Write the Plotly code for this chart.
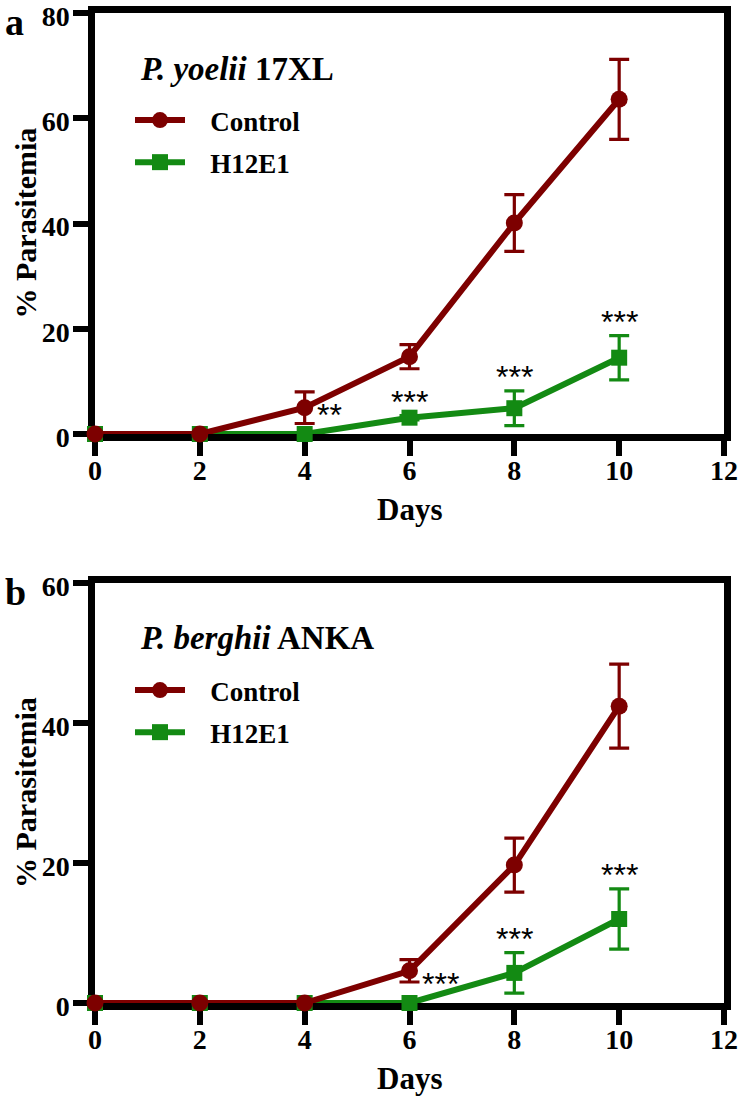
import plotly.graph_objects as go

days = [0, 2, 4, 6, 8, 10]

# Panel a: P. yoelii 17XL
a_title = "<i>P. yoelii</i> 17XL"
a_control = [0, 0, 5.0, 14.7, 40.1, 63.6]
a_control_err = [0, 0, 3.0, 2.3, 5.4, 7.6]
a_h12e1 = [0, 0, 0, 3.1, 4.9, 14.5]
a_h12e1_err = [0, 0, 0, 0.4, 3.3, 4.2]
a_sig = ["", "", "**", "***", "***", "***"]

# Panel b: P. berghii ANKA
b_title = "<i>P. berghii</i> ANKA"
b_control = [0, 0, 0, 4.6, 19.7, 42.4]
b_control_err = [0, 0, 0, 1.6, 3.85, 6.0]
b_h12e1 = [0, 0, 0, 0, 4.3, 12.0]
b_h12e1_err = [0, 0, 0, 0, 2.9, 4.3]
b_sig = ["", "", "", "***", "***", "***"]

x_ticks = [0, 2, 4, 6, 8, 10, 12]
a_y_ticks = [0, 20, 40, 60, 80]
b_y_ticks = [0, 20, 40, 60]

RED = "#7d0000"
GREEN = "#138a13"
SERIF = "Liberation Serif, Times New Roman, serif"
SANS = "Liberation Sans, Arial, sans-serif"
W, H = 743, 1102
GAP = "\u2002\u00a0"

fig = go.Figure()

panels = [
    dict(xa="x", ya="y", leg="legend", title=a_title, ctrl=a_control, ctrl_e=a_control_err,
         h=a_h12e1, h_e=a_h12e1_err, sig=a_sig, letter="a", ymax=80, yt=a_y_ticks,
         top=13, bot=434),
    dict(xa="x2", ya="y2", leg="legend2", title=b_title, ctrl=b_control, ctrl_e=b_control_err,
         h=b_h12e1, h_e=b_h12e1_err, sig=b_sig, letter="b", ymax=60, yt=b_y_ticks,
         top=583, bot=1003),
]

X0, X1 = 95, 724

for p in panels:
    fig.add_trace(go.Scatter(
        x=days, y=p["h"], name="<b>" + GAP + "H12E1</b>", mode="lines+markers",
        xaxis=p["xa"], yaxis=p["ya"], legend=p["leg"], legendrank=2, legendgroup=p["leg"] + "h",
        line=dict(color=GREEN, width=6),
        marker=dict(symbol="square", size=16, color=GREEN),
        error_y=dict(type="data", array=p["h_e"], color=GREEN, thickness=3.2, width=10),
        cliponaxis=False,
    ))
    fig.add_trace(go.Scatter(
        x=days, y=p["ctrl"], name="<b>" + GAP + "Control</b>", mode="lines+markers",
        xaxis=p["xa"], yaxis=p["ya"], legend=p["leg"], legendrank=1, legendgroup=p["leg"] + "c",
        line=dict(color=RED, width=6),
        marker=dict(symbol="circle", size=17, color=RED),
        error_y=dict(type="data", array=p["ctrl_e"], color=RED, thickness=3.2, width=10),
        cliponaxis=False,
    ))
    # significance stars
    for d, v, e, s in zip(days, p["h"], p["h_e"], p["sig"]):
        if not s:
            continue
        if v == 0:
            fig.add_annotation(x=d, y=v, xref=p["xa"], yref=p["ya"], text=s, showarrow=False,
                               xanchor="left", yanchor="middle", xshift=10, yshift=19,
                               font=dict(family=SANS, size=32, color="black"))
        else:
            fig.add_annotation(x=d, y=v + e, xref=p["xa"], yref=p["ya"], text=s, showarrow=False,
                               xanchor="center", yanchor="middle", yshift=14,
                               font=dict(family=SANS, size=32, color="black"))
    # panel title
    fig.add_annotation(x=0.068, y=0.868,
                       xref=p["xa"] + " domain", yref=p["ya"] + " domain",
                       text="<b>" + p["title"] + "</b>", showarrow=False,
                       xanchor="left", yanchor="middle",
                       font=dict(family=SERIF, size=33, color="black"))
    # panel letter
    fig.add_annotation(x=3 / W, y=1 - (p["top"] + 9) / H, xref="paper", yref="paper",
                       text="<b>" + p["letter"] + "</b>", showarrow=False,
                       xanchor="left", yanchor="middle",
                       font=dict(family=SERIF, size=38, color="black"))
    # y-axis title
    fig.add_annotation(x=25 / W, y=1 - (p["top"] + p["bot"]) / 2 / H, xref="paper", yref="paper",
                       text="<b>% Parasitemia</b>", showarrow=False, textangle=-90,
                       xanchor="center", yanchor="middle",
                       font=dict(family=SERIF, size=30, color="black"))
    # x-axis title
    fig.add_annotation(x=(X0 + X1) / 2 / W, y=1 - (p["bot"] + 75) / H, xref="paper", yref="paper",
                       text="<b>Days</b>", showarrow=False,
                       xanchor="center", yanchor="middle",
                       font=dict(family=SERIF, size=31, color="black"))

axis_common = dict(showline=True, linewidth=6.5, linecolor="black", mirror=True,
                   ticks="outside", ticklen=15, tickwidth=5.5, tickcolor="black",
                   showgrid=False, zeroline=False, layer="below traces", automargin=False,
                   ticklabeloverflow="allow",
                   tickfont=dict(family=SERIF, size=28, color="black"))

xdom = [X0 / W, X1 / W]
for i, p in enumerate(panels):
    sfx = "" if i == 0 else str(i + 1)
    ydom = [1 - p["bot"] / H, 1 - p["top"] / H]
    fig.layout["xaxis" + sfx] = dict(
        axis_common, domain=xdom, anchor="y" + sfx, range=[0, 12],
        tickvals=x_ticks, ticktext=["<b>%d</b>" % t for t in x_ticks],
        ticklabelstandoff=-9,
    )
    fig.layout["yaxis" + sfx] = dict(
        axis_common, domain=ydom, anchor="x" + sfx, range=[0, p["ymax"]],
        tickvals=p["yt"], ticktext=["<b>%d</b>" % t for t in p["yt"]],
        ticklabelstandoff=-2, ticklabelshift=3,
    )
    leg = dict(x=130 / W, y=1 - (p["top"] + 83) / H, xanchor="left", yanchor="top",
               xref="paper", yref="paper", bgcolor="rgba(0,0,0,0)",
               font=dict(family=SERIF, size=27, color="black"),
               itemwidth=50, traceorder="grouped", tracegroupgap=4)
    fig.layout["legend" if i == 0 else "legend2"] = leg

fig.update_layout(width=W, height=H, margin=dict(l=0, r=0, t=0, b=0, pad=0),
                  template="none",
                  paper_bgcolor="white", plot_bgcolor="white", showlegend=True)

fig.write_html("out.html", config={"displayModeBar": False},
               post_script="document.body.style.margin='0';document.body.style.padding='0';")
